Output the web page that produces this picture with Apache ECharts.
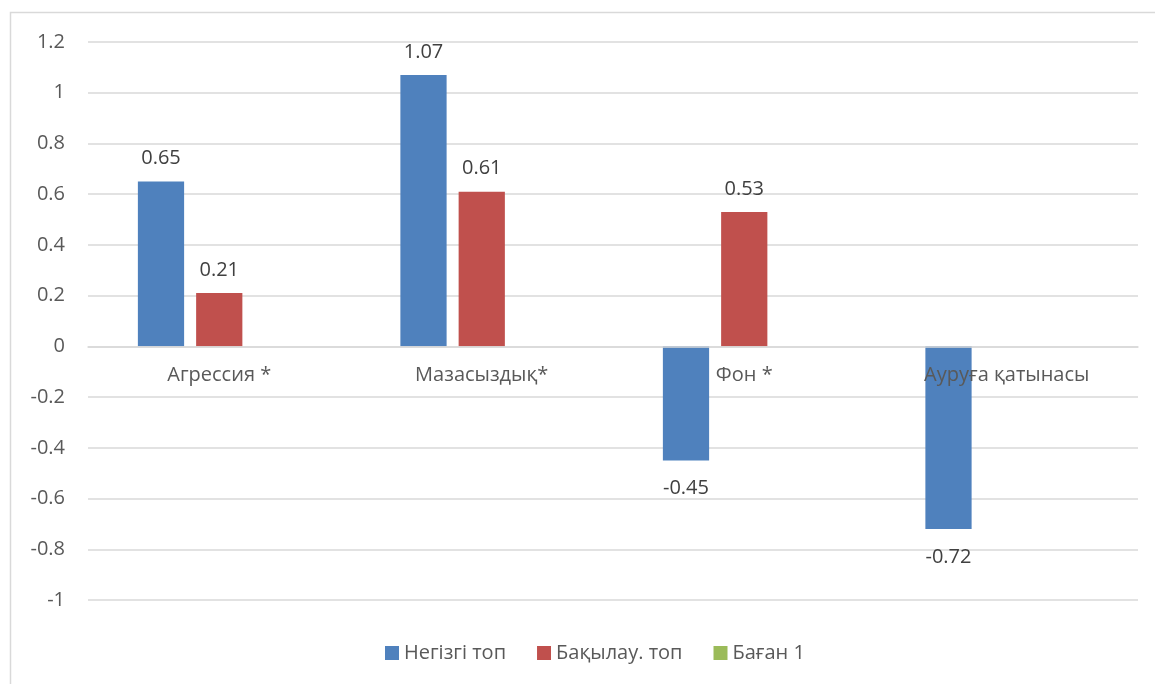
<!DOCTYPE html>
<html><head><meta charset="utf-8">
<script src="https://cdn.jsdelivr.net/npm/echarts@6/dist/echarts.min.js"></script>
<style>html,body{margin:0;padding:0;background:#fff;}#c{width:1155px;height:684px;}</style>
</head><body><div id="c"></div>
<script>
const categories = ['Агрессия *', 'Мазасыздық*', 'Фон *', 'Ауруға қатынасы'];
const seriesNames = ['Негізгі топ', 'Бақылау. топ', 'Баған 1'];
const mainGroup = [0.65, 1.07, -0.45, -0.72];
const controlGroup = [0.21, 0.61, 0.53, null];
const column1 = [null, null, null, null];
const colors = ['#4F81BD', '#C0504D', '#9BBB59'];
const FONT = 'Open Sans';
const FS = 20;

function mk(arr) {
  return arr.map(v => v === null ? null : ({ value: v, label: { position: v < 0 ? 'bottom' : 'top', distance: v < 0 ? 18 : 13 } }));
}
const chart = echarts.init(document.getElementById('c'));
const mkSeries = (name, arr, i) => ({
  name, type: 'bar', data: mk(arr), barGap: '26%', barCategoryGap: '38%',
  itemStyle: { color: colors[i] },
  label: { show: true, color: '#404040', fontSize: FS, fontFamily: FONT },
  z: 1
});
chart.setOption({
  animation: false,
  textStyle: { fontFamily: FONT },
  graphic: [{ type: 'rect', shape: { x: 10.5, y: 12.5, width: 1200, height: 700 }, style: { fill: 'none', stroke: '#d9d9d9', lineWidth: 1.5 }, silent: true }],
  grid: { left: 88, right: 17, top: 42, bottom: 84, containLabel: false },
  legend: {
    bottom: 16, left: 380, itemWidth: 14, itemHeight: 14, itemGap: 31, icon: 'rect',
    textStyle: { color: '#595959', fontSize: FS, fontFamily: FONT },
    data: seriesNames
  },
  xAxis: {
    type: 'category', data: categories, offset: -253.6,
    axisLine: { onZero: false, lineStyle: { color: '#d9d9d9', width: 1.5 } },
    axisTick: { show: false },
    axisLabel: { color: '#595959', fontSize: FS, fontFamily: FONT, margin: 19, interval: 0 },
    z: 5
  },
  yAxis: {
    type: 'value', min: -1, max: 1.2, interval: 0.2,
    axisLine: { show: false }, axisTick: { show: false },
    splitLine: { lineStyle: { color: '#d9d9d9', width: 1.5 } },
    axisLabel: { color: '#595959', fontSize: FS, fontFamily: FONT, margin: 23,
      formatter: v => String(Math.round(v * 10) / 10) }
  },
  series: [mkSeries(seriesNames[0], mainGroup, 0), mkSeries(seriesNames[1], controlGroup, 1), mkSeries(seriesNames[2], column1, 2)]
});
</script></body></html>
